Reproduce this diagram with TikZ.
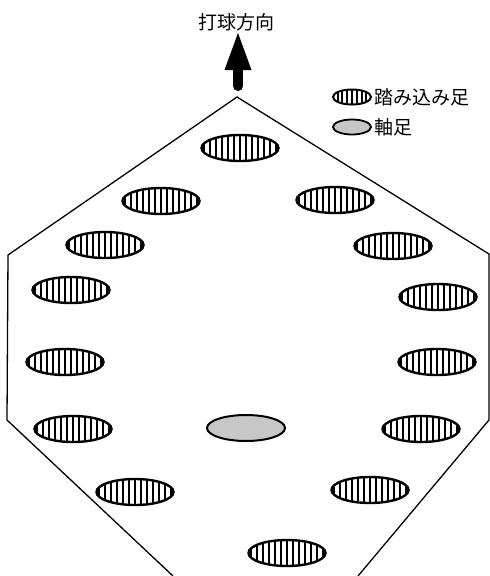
\documentclass[tikz,border=0pt]{standalone}
\usepackage{fontspec}
\newfontfamily\jp{Noto Sans CJK JP}
\usetikzlibrary{shapes.geometric}
\tikzset{
  stripes/.style={path picture={
      \foreach \k in {-8,...,8}{
        \draw[line width=#1*0.42]
          ([xshift=\k*#1]path picture bounding box.south) --
          ([xshift=\k*#1]path picture bounding box.north);}}},
  foot/.style={ellipse, draw, line width=2.4pt, minimum width=77pt,
    minimum height=26pt, inner sep=0pt, outer sep=0pt, fill=white, stripes=6pt},
  pivot/.style={ellipse, draw, line width=2pt, minimum width=78pt,
    minimum height=26pt, inner sep=0pt, outer sep=0pt, fill=black!22},
  legfoot/.style={ellipse, draw, line width=2pt, minimum width=38pt,
    minimum height=15pt, inner sep=0pt, outer sep=0pt, fill=white, stripes=4.8pt},
  legpivot/.style={ellipse, draw, line width=1.8pt, minimum width=38pt,
    minimum height=15pt, inner sep=0pt, outer sep=0pt, fill=black!22},
  label/.style={font=\jp\fontsize{19}{19}\selectfont, inner sep=0pt},
  court/.style={line width=1.3pt, line join=miter}
}
\begin{document}
\begin{tikzpicture}[x=1pt, y=-1pt]
  \useasboundingbox (0,0) rectangle (490,576);
  \clip (0,0) rectangle (490,576);

  % hexagonal area, open at the bottom edge
  \draw[court] (173,576) -- (7,420) -- (8,255) -- (237,97) -- (489,254)
    -- (489,420) -- (358,576);

  % hitting direction
  \node[label] (dir) at (236,22) {打球方向};
  \coordinate (arrowbase) at (238,86);
  \coordinate (arrowtip) at (238,33);
  \draw[line width=10pt, line cap=round] (arrowbase) -- ([yshift=-34pt]arrowtip);
  \fill (arrowtip) -- ++(13.5,37) -- ++(-27,0) -- cycle;

  % legend
  \node[legfoot] (leg1) at (352,97) {};
  \node[label, anchor=west] (leg1t) at (374,97) {踏み込み足};
  \node[legpivot] (leg2) at (352,127) {};
  \node[label, anchor=west] (leg2t) at (374,127) {軸足};

  % stepping feet
  \node[foot] (f1)  at (240,148) {};
  \node[foot] (f2l) at (161,201) {};
  \node[foot] (f2r) at (335,200) {};
  \node[foot] (f3l) at (105,245) {};
  \node[foot] (f3r) at (393,246) {};
  \node[foot] (f4l) at (71,290) {};
  \node[foot] (f4r) at (438,297) {};
  \node[foot] (f5l) at (65,362) {};
  \node[foot] (f5r) at (437,362) {};
  \node[foot] (f6l) at (73,429) {};
  \node[foot] (f6r) at (421,429) {};
  \node[foot] (f7l) at (135,492) {};
  \node[foot] (f7r) at (370,490) {};
  \node[foot] (f8)  at (287,553) {};

  % pivot foot
  \node[pivot] (p) at (246,428) {};
\end{tikzpicture}
\end{document}
